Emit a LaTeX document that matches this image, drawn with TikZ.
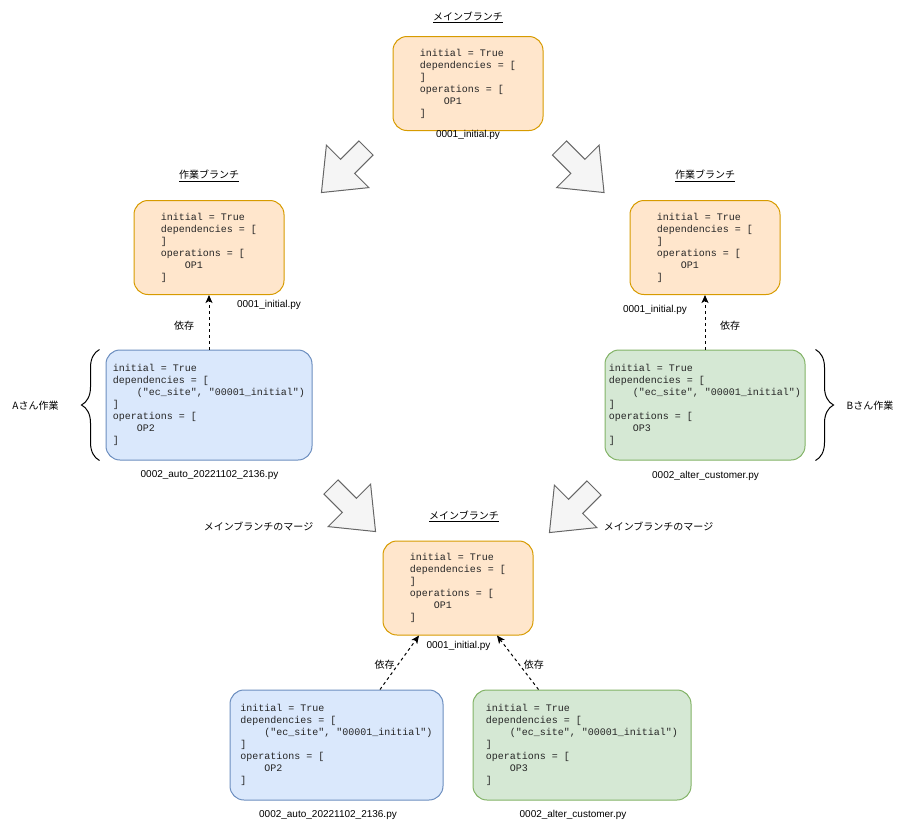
\documentclass[tikz,border=0pt]{standalone}
\usepackage{fontspec}
\setmainfont{Liberation Sans}
\setmonofont{Liberation Mono}
\newfontfamily\jpfont{Noto Sans CJK JP}
\usetikzlibrary{arrows.meta,decorations.pathreplacing}

\definecolor{mainfill}{HTML}{FFE6CC}
\definecolor{mainline}{HTML}{D79B00}
\definecolor{afill}{HTML}{DAE8FC}
\definecolor{aline}{HTML}{6C8EBF}
\definecolor{bfill}{HTML}{D5E8D4}
\definecolor{bline}{HTML}{82B366}
\definecolor{arrowfill}{HTML}{F5F5F5}
\definecolor{arrowline}{HTML}{666666}

\newcommand{\codeindent}{\hspace*{2.4em}}
\newcommand{\initcode}{initial = True\\dependencies = [\\]\\operations = [\\\codeindent OP1\\]}
\newcommand{\changecode}[1]{initial = True\\dependencies = [\\\codeindent("ec\_site", "00001\_initial")\\]\\operations = [\\\codeindent #1\\]}

\begin{document}
\begin{tikzpicture}[x=1pt,y=-1pt,
	codebox/.style={draw,line width=1pt,rounded corners=14pt,inner sep=0pt,align=left,text=black!85,font=\ttfamily\fontsize{10}{12}\selectfont},
	mainbox/.style={codebox,fill=mainfill,draw=mainline,minimum width=150pt,minimum height=94pt},
	abox/.style={codebox,fill=afill,draw=aline,minimum height=110pt},
	bbox/.style={codebox,fill=bfill,draw=bline,minimum height=110pt},
	filelabel/.style={font=\fontsize{10}{12}\selectfont,inner sep=1pt},
	jplabel/.style={font=\jpfont\fontsize{10}{12}\selectfont,inner sep=1pt},
	depends/.style={line width=1pt,dash pattern=on 3pt off 3pt,-{Stealth[length=8pt,width=7pt,inset=2pt]}},
	workbrace/.style={line width=1pt,decorate,decoration={brace,amplitude=18pt}},
	blockarrow/.style={fill=arrowfill,draw=arrowline,line width=1pt,line join=miter},
	fatarrow/.pic={\draw[blockarrow] (0,-10) -- (26,-10) -- (26,-30) -- (63,0) -- (26,30) -- (26,10) -- (0,10) -- cycle;}]
	\useasboundingbox (0,0) rectangle (906,831);

	% main branch
	\node[jplabel] (maintitle) at (468,17) {\underline{メインブランチ}};
	\node[mainbox] (main) at (468,83.5) {\initcode};
	\node[filelabel] (mainfile) at (468,135) {0001\_initial.py};

	\pic[rotate=225] at (366,148) {fatarrow};
	\pic[rotate=-45] at (559.5,148) {fatarrow};

	% work branches
	\node[jplabel] (atitle) at (209,176) {\underline{作業ブランチ}};
	\node[mainbox] (awork) at (209,247.5) {\initcode};
	\node[filelabel] (aworkfile) at (269,305) {0001\_initial.py};
	\node[abox,minimum width=206pt] (achange) at (209,405) {\changecode{OP2}};
	\node[filelabel] (achangefile) at (209.5,475) {0002\_auto\_20221102\_2136.py};

	\node[jplabel] (btitle) at (705,176) {\underline{作業ブランチ}};
	\node[mainbox] (bwork) at (705,247.5) {\initcode};
	\node[filelabel] (bworkfile) at (655,310) {0001\_initial.py};
	\node[bbox,minimum width=200pt] (bchange) at (705,405) {\changecode{OP3}};
	\node[filelabel] (bchangefile) at (705.5,476) {0002\_alter\_customer.py};

	\draw[depends] (achange) -- (awork) node[jplabel,midway,xshift=-25pt,yshift=-3pt] {依存};
	\draw[depends] (bchange) -- (bwork) node[jplabel,midway,xshift=25pt,yshift=-3pt] {依存};

	\draw[workbrace] ([xshift=-6pt]achange.south west) -- ([xshift=-6pt]achange.north west);
	\draw[workbrace] ([xshift=10pt]bchange.north east) -- ([xshift=10pt]bchange.south east);
	\node[jplabel] (awho) at (35.5,406) {Aさん作業};
	\node[jplabel] (bwho) at (870,406) {Bさん作業};

	% merge
	\pic[rotate=-45] at (331,487) {fatarrow};
	\pic[rotate=225] at (594,488) {fatarrow};
	\node[jplabel] (amerge) at (258.5,526) {メインブランチのマージ};
	\node[jplabel] (bmerge) at (658.5,526) {メインブランチのマージ};

	\node[jplabel] (mergedtitle) at (464,516) {\underline{メインブランチ}};
	\node[mainbox] (merged) at (458,588) {\initcode};
	\node[filelabel] (mergedfile) at (458.5,646) {0001\_initial.py};
	\node[abox,minimum width=213pt] (amerged) at (336.5,745) {\changecode{OP2}};
	\node[filelabel] (amergedfile) at (328,815) {0002\_auto\_20221102\_2136.py};
	\node[bbox,minimum width=218pt] (bmerged) at (582,745) {\changecode{OP3}};
	\node[filelabel] (bmergedfile) at (573,815) {0002\_alter\_customer.py};

	\draw[depends] ([xshift=43.5pt]amerged.north) -- ([xshift=-39pt]merged.south) node[jplabel,midway,xshift=-15pt,yshift=-2pt] {依存};
	\draw[depends] ([xshift=-43.5pt]bmerged.north) -- ([xshift=39pt]merged.south) node[jplabel,midway,xshift=16pt,yshift=-2pt] {依存};
\end{tikzpicture}
\end{document}
